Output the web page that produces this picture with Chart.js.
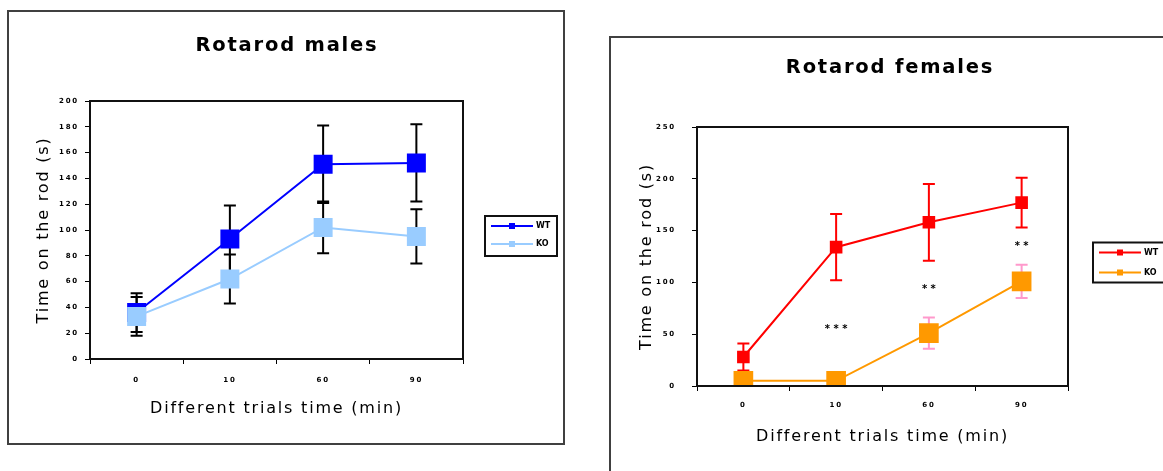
<!DOCTYPE html>
<html>
<head>
<meta charset="utf-8">
<script src="https://cdn.jsdelivr.net/npm/chart.js@4.4.1/dist/chart.umd.min.js"></script>
<style>
  html, body { margin: 0; padding: 0; background: #fff; }
  body { position: relative; width: 1163px; height: 471px; overflow: hidden; }
  .frame { position: absolute; border: 2px solid #404040; box-sizing: border-box; }
  canvas { position: absolute; }
</style>
</head>
<body>
<div class="frame" style="left:7px; top:10px; width:558px; height:435px;"></div>
<div class="frame" style="left:609px; top:36px; width:600px; height:480px;"></div>
<canvas id="males" width="554" height="431" style="left:9px; top:12px; width:554px; height:431px;"></canvas>
<canvas id="females" width="558" height="433" style="left:611px; top:38px; width:558px; height:433px;"></canvas>
<script>
// --- datos ---
const trialTimes = ['0', '10', '60', '90'];

const maleWT = [36, 93, 151, 152];
const maleWTErr = [15, 26, 30, 30];
const maleKO = [33, 62, 102, 95];
const maleKOErr = [15, 19, 20, 21];

const femaleWT = [28, 134, 158, 177];
const femaleWTErr = [13, 32, 37, 24];
const femaleKO = [5, 5, 51, 101];
const femaleKOErr = [2, 2, 15, 16];

// asteriscos de significancia (hembras) por punto de tiempo
const femaleSig = ['', '***', '**', '**'];

Chart.defaults.font.family = 'DejaVu Sans';
Chart.defaults.color = '#000';

// textos de ejes y titulo con letras separadas (como el original)
const spacedText = {
  id: 'spacedText',
  beforeDraw(chart) { chart.ctx.letterSpacing = '1.8px'; },
  beforeDatasetsDraw(chart) { chart.ctx.letterSpacing = '0px'; }
};

// marco del area de la grafica
const plotFrame = {
  id: 'plotFrame',
  afterDraw(chart) {
    const { ctx, chartArea: a } = chart;
    ctx.save();
    ctx.strokeStyle = '#111';
    ctx.lineWidth = 2;
    ctx.strokeRect(a.left, a.top, a.right - a.left, a.bottom - a.top);
    ctx.restore();
  }
};

// barras de error (debajo de las lineas)
const errorBars = {
  id: 'errorBars',
  beforeDatasetsDraw(chart) {
    const ctx = chart.ctx;
    const y = chart.scales.y;
    chart.data.datasets.forEach((ds, i) => {
      const meta = chart.getDatasetMeta(i);
      ctx.save();
      ctx.strokeStyle = ds.errorColor;
      ctx.lineWidth = 2;
      meta.data.forEach((pt, j) => {
        const v = ds.data[j];
        const e = ds.errors[j];
        const top = y.getPixelForValue(v + e);
        const bot = y.getPixelForValue(v - e);
        ctx.beginPath();
        ctx.moveTo(pt.x, top); ctx.lineTo(pt.x, bot);
        ctx.moveTo(pt.x - 6, top); ctx.lineTo(pt.x + 6, top);
        ctx.moveTo(pt.x - 6, bot); ctx.lineTo(pt.x + 6, bot);
        ctx.stroke();
      });
      ctx.restore();
    });
  }
};

// asteriscos entre el error inferior de WT y el superior de KO
const sigMarks = {
  id: 'sigMarks',
  afterDatasetsDraw(chart, args, opts) {
    if (!opts.marks) return;
    const ctx = chart.ctx;
    const y = chart.scales.y;
    const wt = chart.data.datasets[0];
    const ko = chart.data.datasets[1];
    const meta = chart.getDatasetMeta(0);
    ctx.save();
    ctx.font = 'bold 10px DejaVu Sans';
    ctx.fillStyle = '#000';
    ctx.textAlign = 'center';
    ctx.textBaseline = 'middle';
    opts.marks.forEach((m, j) => {
      if (!m) return;
      const low = wt.data[j] - wt.errors[j];
      const high = ko.data[j] + ko.errors[j];
      ctx.fillText(m.split('').join(' '), meta.data[j].x, y.getPixelForValue((low + high) / 2));
    });
    ctx.restore();
  }
};

// leyenda con recuadro, a la derecha del area
const boxLegend = {
  id: 'boxLegend',
  afterDraw(chart, args, opts) {
    const { ctx, chartArea: a } = chart;
    const w = 72, h = 40;
    const x = a.right + opts.dx;
    const y0 = (a.top + a.bottom) / 2 + opts.dy - h / 2;
    ctx.save();
    ctx.strokeStyle = '#111';
    ctx.lineWidth = 2;
    ctx.strokeRect(x, y0, w, h);
    chart.data.datasets.forEach((ds, i) => {
      const ly = y0 + 10 + i * opts.rowGap;
      ctx.strokeStyle = ds.borderColor;
      ctx.lineWidth = 2;
      ctx.beginPath();
      ctx.moveTo(x + 6, ly);
      ctx.lineTo(x + 48, ly);
      ctx.stroke();
      ctx.fillStyle = ds.borderColor;
      ctx.fillRect(x + 24, ly - 3, 6, 6);
      ctx.fillStyle = '#000';
      ctx.font = 'bold 8px DejaVu Sans';
      ctx.textBaseline = 'middle';
      ctx.fillText(ds.label, x + 51, ly);
    });
    ctx.restore();
  }
};

function makeChart(id, cfg) {
  const ctx = document.getElementById(id).getContext('2d');
  return new Chart(ctx, {
    type: 'line',
    data: {
      labels: trialTimes,
      datasets: [
        {
          label: 'WT',
          data: cfg.wt,
          errors: cfg.wtErr,
          errorColor: cfg.wtErrColor,
          borderColor: cfg.wtColor,
          backgroundColor: cfg.wtColor,
          pointBackgroundColor: cfg.wtColor,
          pointBorderColor: cfg.wtColor,
          pointStyle: 'rect',
          pointRadius: cfg.wtRadius,
          borderWidth: 2,
          tension: 0,
          order: 1
        },
        {
          label: 'KO',
          data: cfg.ko,
          errors: cfg.koErr,
          errorColor: cfg.koErrColor,
          borderColor: cfg.koColor,
          backgroundColor: cfg.koColor,
          pointBackgroundColor: cfg.koColor,
          pointBorderColor: cfg.koColor,
          pointStyle: 'rect',
          pointRadius: cfg.koRadius,
          borderWidth: 2,
          tension: 0,
          order: 0
        }
      ]
    },
    options: {
      responsive: false,
      animation: false,
      layout: { padding: { left: 10, right: cfg.padRight, top: 0, bottom: 10 } },
      plugins: {
        legend: { display: false },
        tooltip: { enabled: false },
        title: {
          display: true,
          text: cfg.title,
          color: '#000',
          font: { size: 19.5, weight: 'bold', family: 'DejaVu Sans' },
          padding: { top: cfg.titleTop, bottom: cfg.titleBottom }
        },
        sigMarks: { marks: cfg.sig },
        boxLegend: { dx: cfg.legendDx, dy: 6, rowGap: cfg.rowGap }
      },
      scales: {
        x: {
          type: 'category',
          offset: true,
          grid: { offset: true, drawOnChartArea: false, tickLength: 5, color: '#000' },
          border: { display: true, color: '#000', width: 2 },
          ticks: { padding: cfg.xTickPad, font: { size: 7, weight: 'bold' }, color: '#000' },
          title: {
            display: true,
            text: 'Different trials time (min)',
            color: '#000',
            font: { size: 16 },
            padding: { top: 0, bottom: 14.4 }
          },
          afterFit: s => { s.height = cfg.xHeight; }
        },
        y: {
          min: 0,
          max: cfg.yMax,
          grid: { drawOnChartArea: false, tickLength: 5, color: '#000' },
          border: { display: true, color: '#000', width: 2 },
          ticks: { stepSize: cfg.yStep, padding: cfg.yTickPad, font: { size: 7, weight: 'bold' }, color: '#000' },
          title: {
            display: true,
            text: 'Time on the rod (s)',
            color: '#000',
            font: { size: 16 },
            padding: { top: cfg.yTitlePad, bottom: 0 }
          },
          afterFit: s => { s.width = cfg.yWidth; }
        },
        // eje vacio a la derecha: solo reserva el espacio de la leyenda
        y2: {
          position: 'right',
          display: true,
          grid: { display: false },
          border: { display: false },
          ticks: { display: false },
          afterFit: s => { s.width = cfg.y2Width; }
        }
      }
    },
    plugins: [spacedText, errorBars, plotFrame, sigMarks, boxLegend]
  });
}

makeChart('males', {
  title: 'Rotarod males',
  wt: maleWT, wtErr: maleWTErr, ko: maleKO, koErr: maleKOErr,
  wtColor: '#0000ff', koColor: '#99ccff',
  wtErrColor: '#000', koErrColor: '#000',
  wtRadius: 12, koRadius: 12,
  yMax: 200, yStep: 20,
  padRight: 8, titleTop: 22.3, titleBottom: 43.3,
  yWidth: 71, yTitlePad: 15.4, yTickPad: 6,
  xHeight: 74, xTickPad: 12,
  y2Width: 92, legendDx: 22, rowGap: 18,
  sig: null
});

makeChart('females', {
  title: 'Rotarod females',
  wt: femaleWT, wtErr: femaleWTErr, ko: femaleKO, koErr: femaleKOErr,
  wtColor: '#ff0000', koColor: '#ff9900',
  wtErrColor: '#ff0000', koErrColor: '#ff99cc',
  wtRadius: 7.5, koRadius: 12.5,
  yMax: 250, yStep: 50,
  padRight: 10, titleTop: 18.3, titleBottom: 47.3,
  yWidth: 76, yTitlePad: 16.4, yTickPad: 16,
  xHeight: 75, xTickPad: 10,
  y2Width: 91, legendDx: 25, rowGap: 20,
  sig: femaleSig
});
</script>
</body>
</html>
